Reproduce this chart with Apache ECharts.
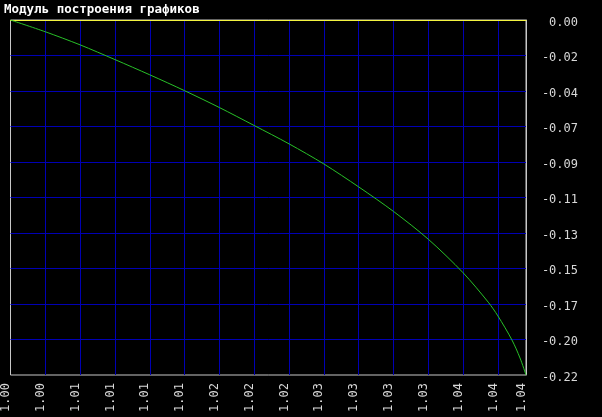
<!DOCTYPE html>
<html>
<head>
<meta charset="utf-8">
<script src="https://cdn.jsdelivr.net/npm/echarts@6/dist/echarts.min.js"></script>
<style>
html,body{margin:0;padding:0;background:#000;}
#chart{width:602px;height:417px;}
</style>
</head>
<body>
<div id="chart"></div>
<script>
var titleText = 'Модуль построения графиков';
var xValues = [1.00000, 1.00285, 1.00570, 1.00855, 1.01140, 1.01425, 1.01710, 1.01995, 1.02280, 1.02565, 1.02850, 1.03135, 1.03420, 1.03705, 1.03911, 1.03990, 1.04105, 1.04171, 1.04220];
var yValues = [0, -0.0072, -0.0152, -0.0242, -0.0335, -0.0432, -0.0535, -0.0645, -0.0757, -0.0880, -0.1020, -0.1170, -0.1340, -0.1545, -0.1725, -0.1809, -0.1956, -0.2066, -0.2170];
var xMin = 1.0, xMax = 1.0422, xStep = 0.00285;
var yMin = -0.217, yMax = 0, yStep = 0.0217;
var xTickLabels = ['1.00','1.00','1.01','1.01','1.01','1.01','1.02','1.02','1.02','1.03','1.03','1.03','1.03','1.04','1.04','1.04'];
var yTickLabels = ['-0.22','-0.20','-0.17','-0.15','-0.13','-0.11','-0.09','-0.07','-0.04','-0.02','0.00'];

function tickLabel(labels, min, max, step, v) {
  if (Math.abs(v - max) < step * 0.01) return labels[labels.length - 1];
  var i = Math.round((v - min) / step);
  if (i < 0) i = 0;
  if (i > labels.length - 1) i = labels.length - 1;
  return labels[i];
}

var seriesData = xValues.map(function (x, i) { return [x, yValues[i]]; });
var FONT = 'DejaVu Sans Mono';
var GRIDC = '#0000b4';
var chart = echarts.init(document.getElementById('chart'), null, {renderer: 'canvas'});
chart.setOption({
  backgroundColor: '#000000',
  animation: false,
  title: {
    text: titleText, left: 0, top: 0, padding: [3, 4],
    textStyle: {color: '#ffffff', fontFamily: FONT, fontSize: 12.5, fontWeight: 'bold'}
  },
  grid: {
    left: 10, right: 76, top: 20, bottom: 42,
    show: true, borderColor: '#c8c8c8', borderWidth: 1, backgroundColor: 'transparent'
  },
  xAxis: [{
    type: 'value', min: xMin, max: xMax, interval: xStep,
    position: 'bottom',
    axisLine: {show: true, lineStyle: {color: '#c8c8c8', width: 1}},
    axisTick: {show: false},
    axisLabel: {
      rotate: 90, margin: 8, showMinLabel: true, showMaxLabel: true,
      verticalAlign: 'bottom', lineHeight: 9,
      color: '#d8d8d8', fontFamily: FONT, fontSize: 12,
      formatter: function (v) { return tickLabel(xTickLabels, xMin, xMax, xStep, v); }
    },
    splitLine: {show: true, showMinLine: false, showMaxLine: false, lineStyle: {color: GRIDC, width: 1}}
  }, {
    type: 'value', min: xMin, max: xMax,
    position: 'top',
    axisLine: {show: true, lineStyle: {color: '#f4f440', width: 1}},
    axisTick: {show: false}, axisLabel: {show: false}, splitLine: {show: false}
  }],
  yAxis: {
    type: 'value', min: yMin, max: yMax, interval: yStep,
    position: 'right',
    axisLine: {show: true, lineStyle: {color: '#c8c8c8', width: 1}},
    axisTick: {show: false},
    axisLabel: {
      margin: 52, align: 'right', showMinLabel: true, showMaxLabel: true,
      verticalAlign: 'top', lineHeight: 5,
      color: '#d8d8d8', fontFamily: FONT, fontSize: 12,
      formatter: function (v) { return tickLabel(yTickLabels, yMin, yMax, yStep, v); }
    },
    splitLine: {show: true, showMinLine: false, showMaxLine: false, lineStyle: {color: GRIDC, width: 1}}
  },
  series: [{
    type: 'line', xAxisIndex: 0, data: seriesData, smooth: 0.3, showSymbol: false,
    lineStyle: {color: '#28c028', width: 1}
  }]
});
</script>
</body>
</html>
